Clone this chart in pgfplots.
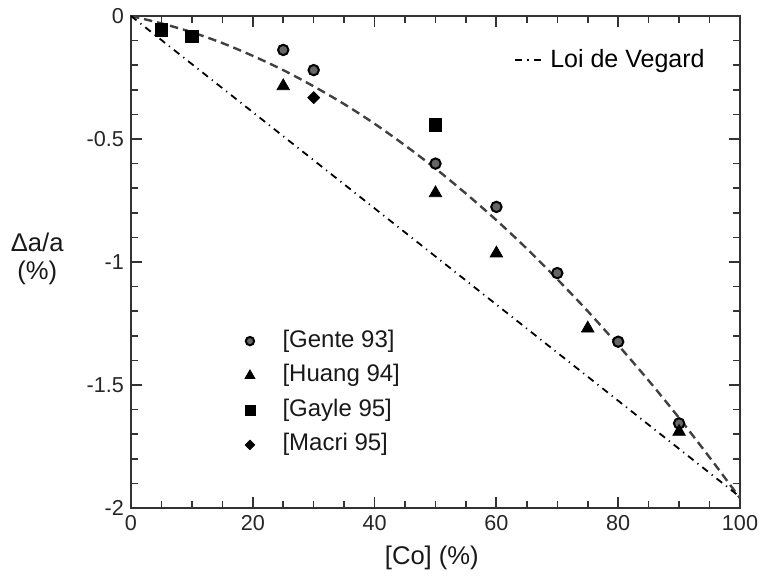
\documentclass[border=0pt]{standalone}
\usepackage{pgfplots}
\usepackage{pgfplotstable}
\pgfplotsset{compat=1.18}
\usepackage{fontspec}
\setmainfont{Liberation Sans}

\pgfplotstableread{
x y
25 -0.138
30 -0.220
50 -0.600
60 -0.776
70 -1.045
80 -1.324
90 -1.656
}\gente
\pgfplotstableread{
x y
25 -0.285
50 -0.720
60 -0.965
75 -1.270
90 -1.690
}\huang
\pgfplotstableread{
x y
5 -0.057
10 -0.084
50 -0.443
}\gayle
\pgfplotstableread{
x y
30 -0.332
}\macri
\pgfplotstableread{
x y
0 0
5 -0.030
10 -0.066
15 -0.110
20 -0.162
25 -0.220
30 -0.286
35 -0.358
40 -0.438
45 -0.526
50 -0.620
55 -0.722
60 -0.830
65 -0.946
70 -1.070
75 -1.200
80 -1.338
85 -1.482
90 -1.634
95 -1.794
100 -1.960
}\fit
\pgfplotstableread{
x y
0 0
100 -1.955
}\vegard

\begin{document}
\begin{tikzpicture}
\begin{axis}[
  scale only axis, width=304.5pt, height=246pt,
  xmin=0, xmax=100, ymin=-2, ymax=0,
  xtick={0,20,40,60,80,100}, xticklabels={0,20,40,60,80,100},
  ytick={-2,-1.5,-1,-0.5,0}, yticklabels={-2,-1.5,-1,-0.5,0},
  minor x tick num=3, minor y tick num=4,
  major tick length=5.5pt, minor tick length=3.5pt,
  axis line style={line width=1pt, black!80},
  every tick/.style={line width=0.9pt, black!80},
  every minor tick/.style={line width=0.8pt, black!80},
  tick label style={font=\fontsize{10.8}{12}\selectfont, text=black!85},
  xlabel={[Co] (\%)}, ylabel={Δa/a\\(\%)},
  label style={font=\fontsize{12.8}{14}\selectfont, text=black!90},
  ylabel style={rotate=-90, align=center, at={(axis description cs:-0.154,0.506)}, anchor=center},
  xlabel style={at={(axis description cs:0.494,-0.102)}, anchor=center},
  legend style={at={(axis cs:16.6,-1.263)}, anchor=north west, draw=none, fill=none,
    inner sep=0pt, row sep=3.3pt,
    font=\fontsize{12}{14}\selectfont,
    nodes={inner sep=1pt, text height=9pt, text depth=3pt, text=black!90}},
  legend cell align=left,
  legend image code/.code={\draw[#1, every mark/.append style={scale=0.8}] plot coordinates {(0.3cm,0cm)}; \path (0cm,0cm) (0.83cm,0cm);},
]
\addplot[forget plot, black!75, line width=1.2pt, dash pattern=on 4.2pt off 2.5pt, smooth] table[x=x,y=y] {\fit};
\addplot[only marks, mark=*, mark size=2.6pt, mark options={fill=black!60, draw=black, line width=1pt}] table[x=x,y=y] {\gente};
\addlegendentry{[Gente 93]}
\addplot[only marks, mark=triangle*, mark size=3.6pt, mark options={fill=black, draw=black}] table[x=x,y=y] {\huang};
\addlegendentry{[Huang 94]}
\addplot[only marks, mark=square*, mark size=3.1pt, mark options={fill=black, draw=black}] table[x=x,y=y] {\gayle};
\addlegendentry{[Gayle 95]}
\addplot[only marks, mark=square*, mark size=2.1pt, mark options={fill=black, draw=black, rotate=45}] table[x=x,y=y] {\macri};
\addlegendentry{[Macri 95]}
\end{axis}
\begin{axis}[
  scale only axis, width=304.5pt, height=246pt,
  xmin=0, xmax=100, ymin=-2, ymax=0, hide axis,
  legend style={at={(axis cs:62.9,-0.179)}, anchor=west, draw=none, fill=none,
    inner sep=0pt, font=\fontsize{12.5}{14}\selectfont,
    nodes={inner sep=2pt, text=black}},
  legend image code/.code={\draw[#1] (0pt,0pt) -- (15pt,0pt);},
]
\addplot[black, line width=0.9pt, dash pattern=on 3.5pt off 2.5pt on 0.6pt off 2.5pt] table[x=x,y=y] {\vegard};
\addlegendentry{Loi de Vegard}
\end{axis}
\pgfresetboundingbox
\useasboundingbox (-65.5pt,-35.5pt) rectangle (315pt,254pt);
\end{tikzpicture}
\end{document}
